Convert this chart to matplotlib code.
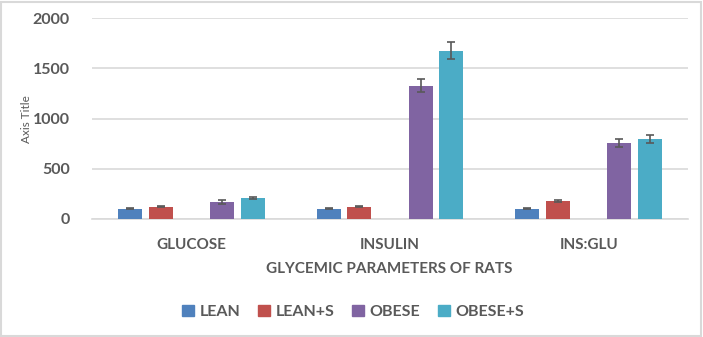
import matplotlib
matplotlib.use("Agg")
import matplotlib.pyplot as plt
import numpy as np
from matplotlib.patches import Rectangle, Patch

categories = ["GLUCOSE", "INSULIN", "INS:GLU"]
series_names = ["LEAN", "LEAN+S", "OBESE", "OBESE+S"]
lean = [100, 100, 100]
lean_s = [120, 120, 180]
obese = [170, 1325, 757]
obese_s = [210, 1673, 797]
lean_err = [5, 5, 5]
lean_s_err = [5, 5, 12]
obese_err = [17, 65, 40]
obese_s_err = [12, 85, 40]
yticks = [0, 500, 1000, 1500, 2000]

colors = ["#4F81BD", "#C0504D", "#8064A2", "#4BACC6"]
slots = [-2, -1, 1, 2]
values = [lean, lean_s, obese, obese_s]
errors = [lean_err, lean_s_err, obese_err, obese_s_err]

plt.rcParams['font.family'] = ['Lato', 'DejaVu Sans']
txt = "#595959"

fig = plt.figure(figsize=(7.03, 3.37), dpi=100)
ax = fig.add_axes([92/703, 1-219/337, (688-92)/703, (219-18)/337])

x = np.arange(len(categories))
slot_w = 0.1545
bar_w = 0.121
for name, vals, errs, c, s in zip(series_names, values, errors, colors, slots):
    ax.bar(x + s*slot_w, vals, bar_w, color=c, label=name,
           yerr=errs, error_kw=dict(ecolor="#595959", elinewidth=1.2, capsize=2.6, capthick=1.2),
           zorder=3)

ax.set_xlim(-0.5, 2.5)
ax.set_ylim(0, 2000)
ax.set_yticks(yticks)
ax.set_yticklabels([str(t) for t in yticks], fontsize=11.5, fontweight='bold', color=txt)
ax.set_xticks(x)
ax.set_xticklabels(categories, fontsize=11, fontweight='bold', color=txt)
ax.tick_params(axis='both', length=0)
ax.tick_params(axis='x', pad=14)
ax.tick_params(axis='y', pad=16)
ax.grid(axis='y', color="#D9D9D9", linewidth=1.2, zorder=0)
for sp in ["top", "right", "left"]:
    ax.spines[sp].set_visible(False)
ax.spines["bottom"].set_color("#D9D9D9")
ax.spines["bottom"].set_linewidth(1.2)

fig.text(389/703, 1-269/337, "GLYCEMIC PARAMETERS OF RATS", ha='center', va='center',
         fontsize=11, fontweight='bold', color=txt)
fig.text(27/703, 1-119/337, "Axis Title", ha='center', va='center', rotation=90,
         fontsize=8.5, color=txt)

handles = [Patch(color=c) for c in colors]
leg = fig.legend(handles, series_names, loc='center', bbox_to_anchor=(353/703, 1-312/337),
                 ncol=4, frameon=False, handlelength=0.75, handleheight=0.75,
                 columnspacing=1.1, handletextpad=0.35,
                 prop=dict(family='Lato', weight='bold', size=11.5))
for t in leg.get_texts():
    t.set_color(txt)

fig.patches.append(Rectangle((1/703, 1/337), 700/703, 334/337, transform=fig.transFigure,
                             fill=False, edgecolor="#D9D9D9", linewidth=1.5))

fig.savefig("out.png", dpi=100)
